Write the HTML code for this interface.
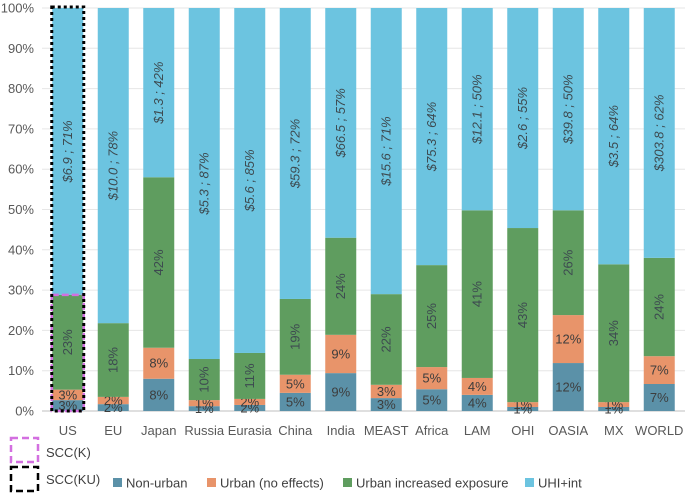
<!DOCTYPE html>
<html><head><meta charset="utf-8"><style>
body{margin:0;background:#fff;font-family:"Liberation Sans",sans-serif;}
svg text{font-family:"Liberation Sans",sans-serif;}
</style></head><body>
<svg id="c" width="685" height="494" viewBox="0 0 685 494"></svg>
<script>
const categories=["US","EU","Japan","Russia","Eurasia","China","India","MEAST","Africa","LAM","OHI","OASIA","MX","WORLD"];
const nonUrban=[2.7,1.7,8,1.2,1.5,4.5,9.4,3.2,5.4,4,1,11.9,1,6.7];
const urbanNoEff=[2.6,1.8,7.7,1.5,1.5,4.5,9.5,3.3,5.5,4.2,1.2,11.9,1.2,6.9];
const urbanExp=[23.5,18.3,42.3,10.2,11.4,18.8,24.1,22.5,25.3,41.6,43.2,26,34.2,24.4];
const lblNon=["3%","2%","8%","1%","2%","5%","9%","3%","5%","4%","1%","12%","1%","7%"];
const lblUrb=["3%","2%","8%","1%","2%","5%","9%","3%","5%","4%","1%","12%","1%","7%"];
const lblExp=["23%","18%","42%","10%","11%","19%","24%","22%","25%","41%","43%","26%","34%","24%"];
const lblUhi=["$6.9 ; 71%","$10.0 ; 78%","$1.3 ; 42%","$5.3 ; 87%","$5.6 ; 85%","$59.3 ; 72%","$66.5 ; 57%","$15.6 ; 71%","$75.3 ; 64%","$12.1 ; 50%","$2.6 ; 55%","$39.8 ; 50%","$3.5 ; 64%","$303.8 ; 62%"];
const yTicks=[0,10,20,30,40,50,60,70,80,90,100];

const svg=document.getElementById('c');
const NS='http://www.w3.org/2000/svg';
const y0=411,y1=8,x0=45,slot=45.5,bw=31;
const Y=v=>y0-(y0-y1)*v/100;
const X=i=>x0+slot*i+slot/2;
function mk(t,a,txt){const e=document.createElementNS(NS,t);for(const k in a)e.setAttribute(k,a[k]);if(txt!=null)e.textContent=txt;svg.appendChild(e);return e;}
yTicks.forEach(t=>{
  const g=mk('line',{x1:42,x2:685,y1:Y(t),y2:Y(t),stroke:t?'#e6e6e6':'#bfbfbf','stroke-width':1});
  
  
  const l=mk('text',{x:34,y:Y(t)+4.5,'text-anchor':'end','font-size':13,fill:'#595959'},t+'%');
  
  
});
const cols=['#5b91a8','#e8946a','#5f9d5f','#6cc4e0'];
categories.forEach((c,i)=>{
  const segs=[nonUrban[i],urbanNoEff[i],urbanExp[i],100-nonUrban[i]-urbanNoEff[i]-urbanExp[i]];
  const lbls=[lblNon[i],lblUrb[i],lblExp[i],lblUhi[i]];
  const names=['bar-non-urban','bar-urban-no-effects','bar-urban-increased-exposure','bar-uhi-int'];
  let cum=0;const cx=X(i);
  segs.forEach((v,k)=>{
    const top=Y(cum+v),bot=Y(cum);
    const r=mk('rect',{x:cx-bw/2,y:top,width:bw,height:bot-top,fill:cols[k]});
    
    
    const my=(top+bot)/2;
    let t;
    if(k>=2){
      t=mk('text',{x:cx,y:my,'text-anchor':'middle','dominant-baseline':'central','font-size':13,fill:'#3d4a50','font-style':k==3?'italic':'normal',transform:`rotate(-90 ${cx} ${my})`},lbls[k]);
    } else {
      t=mk('text',{x:cx,y:my,'text-anchor':'middle','dominant-baseline':'central','font-size':13,fill:'#3d3d3d'},lbls[k]);
    }
    
    
    cum+=v;
  });
  const xl=mk('text',{x:cx,y:435,'text-anchor':'middle','font-size':13,fill:'#595959'},c);
  
  
});
const ux=X(0);
const b1=mk('rect',{x:ux-16,y:Y(28.8),width:32,height:Y(0)-Y(28.8),fill:'none',stroke:'#d36fe0','stroke-width':2.5,'stroke-dasharray':'7 3'});


const b2=mk('rect',{x:ux-16,y:7,width:32,height:404,fill:'none',stroke:'#000','stroke-width':3,'stroke-dasharray':'3 3'});


const lk=mk('rect',{x:11,y:438,width:27,height:24,fill:'none',stroke:'#d36fe0','stroke-width':2.5,'stroke-dasharray':'7 4'});


const lkt=mk('text',{x:46,y:457,'font-size':13,fill:'#404040'},'SCC(K)');


const lu=mk('rect',{x:11,y:467,width:27,height:24,fill:'none',stroke:'#000','stroke-width':2.5,'stroke-dasharray':'7 4'});


const lut=mk('text',{x:46,y:484,'font-size':13,fill:'#404040'},'SCC(KU)');


const leg=[['Non-urban',113],['Urban (no effects)',207],['Urban increased exposure',343],['UHI+int',525]];
leg.forEach((l,k)=>{
  const s=mk('rect',{x:l[1],y:478,width:9,height:9,fill:cols[k]});
  
  
  const t=mk('text',{x:l[1]+13,y:487.5,'font-size':13,fill:'#404040'},l[0]);
  
  
});
</script>
</body></html>
